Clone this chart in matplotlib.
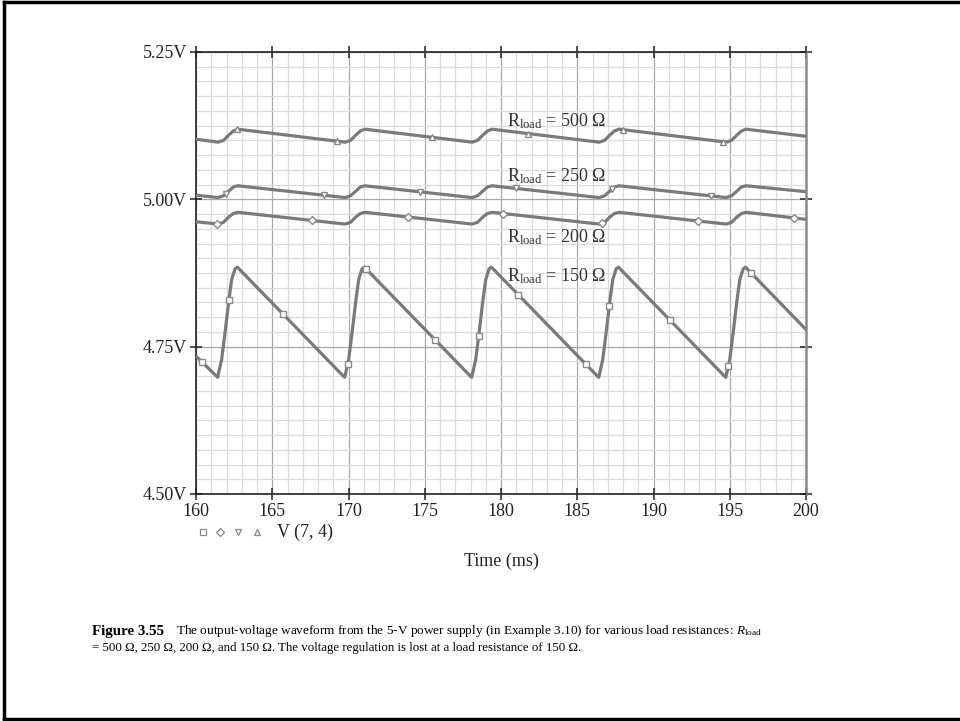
import numpy as np
import matplotlib
matplotlib.use('Agg')
import matplotlib.pyplot as plt
from matplotlib.lines import Line2D
from matplotlib.ticker import MultipleLocator

plt.rcParams['font.family'] = ['Liberation Serif', 'DejaVu Serif']
plt.rcParams['mathtext.fontset'] = 'custom'
plt.rcParams['mathtext.rm'] = 'Liberation Serif'
plt.rcParams['mathtext.it'] = 'Liberation Serif:italic'
plt.rcParams['mathtext.bf'] = 'Liberation Serif:bold'

# --- data (time in ms, voltage in V) ---
# R_load = 150 ohm : one row per cycle (trough, rise, peak)
t150 = [160.0,
        161.22, 161.42, 161.68, 161.90, 162.16, 162.34, 162.56, 162.71,
        169.55, 169.75, 170.01, 170.23, 170.49, 170.67, 170.89, 171.04,
        177.88, 178.08, 178.34, 178.56, 178.82, 179.00, 179.22, 179.37,
        186.21, 186.41, 186.67, 186.89, 187.15, 187.33, 187.55, 187.70,
        194.54, 194.74, 195.00, 195.22, 195.48, 195.66, 195.88, 196.03,
        200.0]
v150 = [4.734,
        4.703, 4.698, 4.728, 4.773, 4.830, 4.864, 4.882, 4.885,
        4.703, 4.698, 4.728, 4.773, 4.830, 4.864, 4.882, 4.885,
        4.703, 4.698, 4.728, 4.773, 4.830, 4.864, 4.882, 4.885,
        4.703, 4.698, 4.728, 4.773, 4.830, 4.864, 4.882, 4.885,
        4.703, 4.698, 4.728, 4.773, 4.830, 4.864, 4.882, 4.885,
        4.779]

# R_load = 200 / 250 / 500 ohm share the same time points
t_flat = [160.0,
          161.45, 161.80, 162.15, 162.45, 162.75,
          169.78, 170.13, 170.48, 170.78, 171.08,
          178.11, 178.46, 178.81, 179.11, 179.41,
          186.44, 186.79, 187.14, 187.44, 187.74,
          194.77, 195.12, 195.47, 195.77, 196.07,
          200.0]
v500 = [5.102,
        5.097, 5.100, 5.109, 5.116, 5.119,
        5.097, 5.100, 5.109, 5.116, 5.119,
        5.097, 5.100, 5.109, 5.116, 5.119,
        5.097, 5.100, 5.109, 5.116, 5.119,
        5.097, 5.100, 5.109, 5.116, 5.119,
        5.107]
v250 = [5.007,
        5.003, 5.006, 5.014, 5.021, 5.023,
        5.003, 5.006, 5.014, 5.021, 5.023,
        5.003, 5.006, 5.014, 5.021, 5.023,
        5.003, 5.006, 5.014, 5.021, 5.023,
        5.003, 5.006, 5.014, 5.021, 5.023,
        5.013]
v200 = [4.962,
        4.958, 4.961, 4.970, 4.976, 4.978,
        4.958, 4.961, 4.970, 4.976, 4.978,
        4.958, 4.961, 4.970, 4.976, 4.978,
        4.958, 4.961, 4.970, 4.976, 4.978,
        4.958, 4.961, 4.970, 4.976, 4.978,
        4.966]

# marker times along each trace
m150 = [160.37, 162.16, 165.73, 169.94, 171.15, 175.67, 178.54, 181.14,
        185.57, 187.10, 191.08, 194.90, 196.39]
m200 = [161.36, 167.63, 173.92, 180.15, 186.64, 192.94, 199.21]
m250 = [161.97, 168.41, 174.69, 180.96, 187.26, 193.75]
m500 = [162.71, 169.23, 175.50, 181.77, 188.02, 194.54]

labels = ['500', '250', '200', '150']
label_y = [5.133, 5.040, 4.935, 4.870]
label_x = 180.4

xticks = [160, 165, 170, 175, 180, 185, 190, 195, 200]
yticks = [4.50, 4.75, 5.00, 5.25]
ytick_labels = ['4.50V', '4.75V', '5.00V', '5.25V']

line_c = '#7a7a7a'

fig = plt.figure(figsize=(9.6, 7.21), dpi=100)
ax = fig.add_axes([196/960, 1 - 494/721, 610/960, 442/721])

traces = [(t_flat, v500, m500, '^'),
          (t_flat, v250, m250, 'v'),
          (t_flat, v200, m200, 'D'),
          (t150, v150, m150, 's')]
for t, v, m, mk in traces:
    ax.plot(t, v, color=line_c, lw=2.3, solid_capstyle='round', zorder=3)
    ax.plot(m, np.interp(m, t, v), ls='none', marker=mk,
            ms=5 if mk != 'D' else 4.2, mfc='white', mec='#8a8a8a', mew=1.0, zorder=4)

for lab, ly in zip(labels, label_y):
    ax.text(label_x, ly, 'R$_{\\rm load}$ = ' + lab + ' \u03a9', fontsize=13,
            va='center', ha='left', color='#333333', zorder=5)

ax.set_xlim(160, 200)
ax.set_ylim(4.50, 5.25)
ax.set_xticks(xticks)
ax.set_xticklabels([str(x) for x in xticks])
ax.set_yticks(yticks)
ax.set_yticklabels(ytick_labels)
ax.xaxis.set_minor_locator(MultipleLocator(1))
ax.yaxis.set_minor_locator(MultipleLocator(0.025))
ax.grid(which='major', color='#a8a8a8', lw=0.9, zorder=1)
ax.grid(which='minor', color='#dcdcdc', lw=0.9, zorder=0)
ax.set_axisbelow(True)

ax.tick_params(which='major', direction='inout', length=9, width=1.1,
               labelsize=13, top=True, right=True, colors='#222222', pad=2)
ax.tick_params(which='minor', length=0)
for s in ['top', 'bottom', 'left']:
    ax.spines[s].set_color('#222222')
    ax.spines[s].set_linewidth(1.2)
ax.spines['right'].set_color('#8a8a8a')
ax.spines['right'].set_linewidth(1.8)

# legend row under the axis
leg_y = 1 - 532/721
for x, mk in zip([203, 220, 238, 257], ['s', 'D', 'v', '^']):
    fig.add_artist(Line2D([x/960], [leg_y], transform=fig.transFigure, ls='none',
                          marker=mk, ms=4.5 if mk != 'D' else 3.8,
                          mfc='white', mec='#8a8a8a', mew=0.9))
fig.text(277/960, leg_y, 'V (7, 4)', fontsize=13, va='center', ha='left', color='#222222')
fig.text(501/960, 1 - 561/721, 'Time (ms)', fontsize=13, va='center', ha='center',
         color='#222222')

# caption
fig.text(92/960, 1 - 631/721, 'Figure 3.55', fontsize=10.8, fontweight='bold',
         va='center', ha='left')
fig.text(176/960, 1 - 631/721,
         'The output-voltage waveform from the 5-V power supply (in Example 3.10) '
         'for various load resistances: $R_{\\rm load}$', fontsize=9.5, va='center', ha='left')
fig.text(92/960, 1 - 648/721,
         '= 500 \u03a9, 250 \u03a9, 200 \u03a9, and 150 \u03a9. The voltage regulation '
         'is lost at a load resistance of 150 \u03a9.', fontsize=9.3, va='center', ha='left')

# page frame (left, top, bottom)
for xs, ys in [([0.004, 0.004], [0.003, 0.997]), ([0.004, 1.0], [0.997, 0.997]),
               ([0.004, 1.0], [0.003, 0.003])]:
    fig.add_artist(Line2D(xs, ys, transform=fig.transFigure, color='black', lw=2.5))

fig.savefig('out.png', dpi=100)
